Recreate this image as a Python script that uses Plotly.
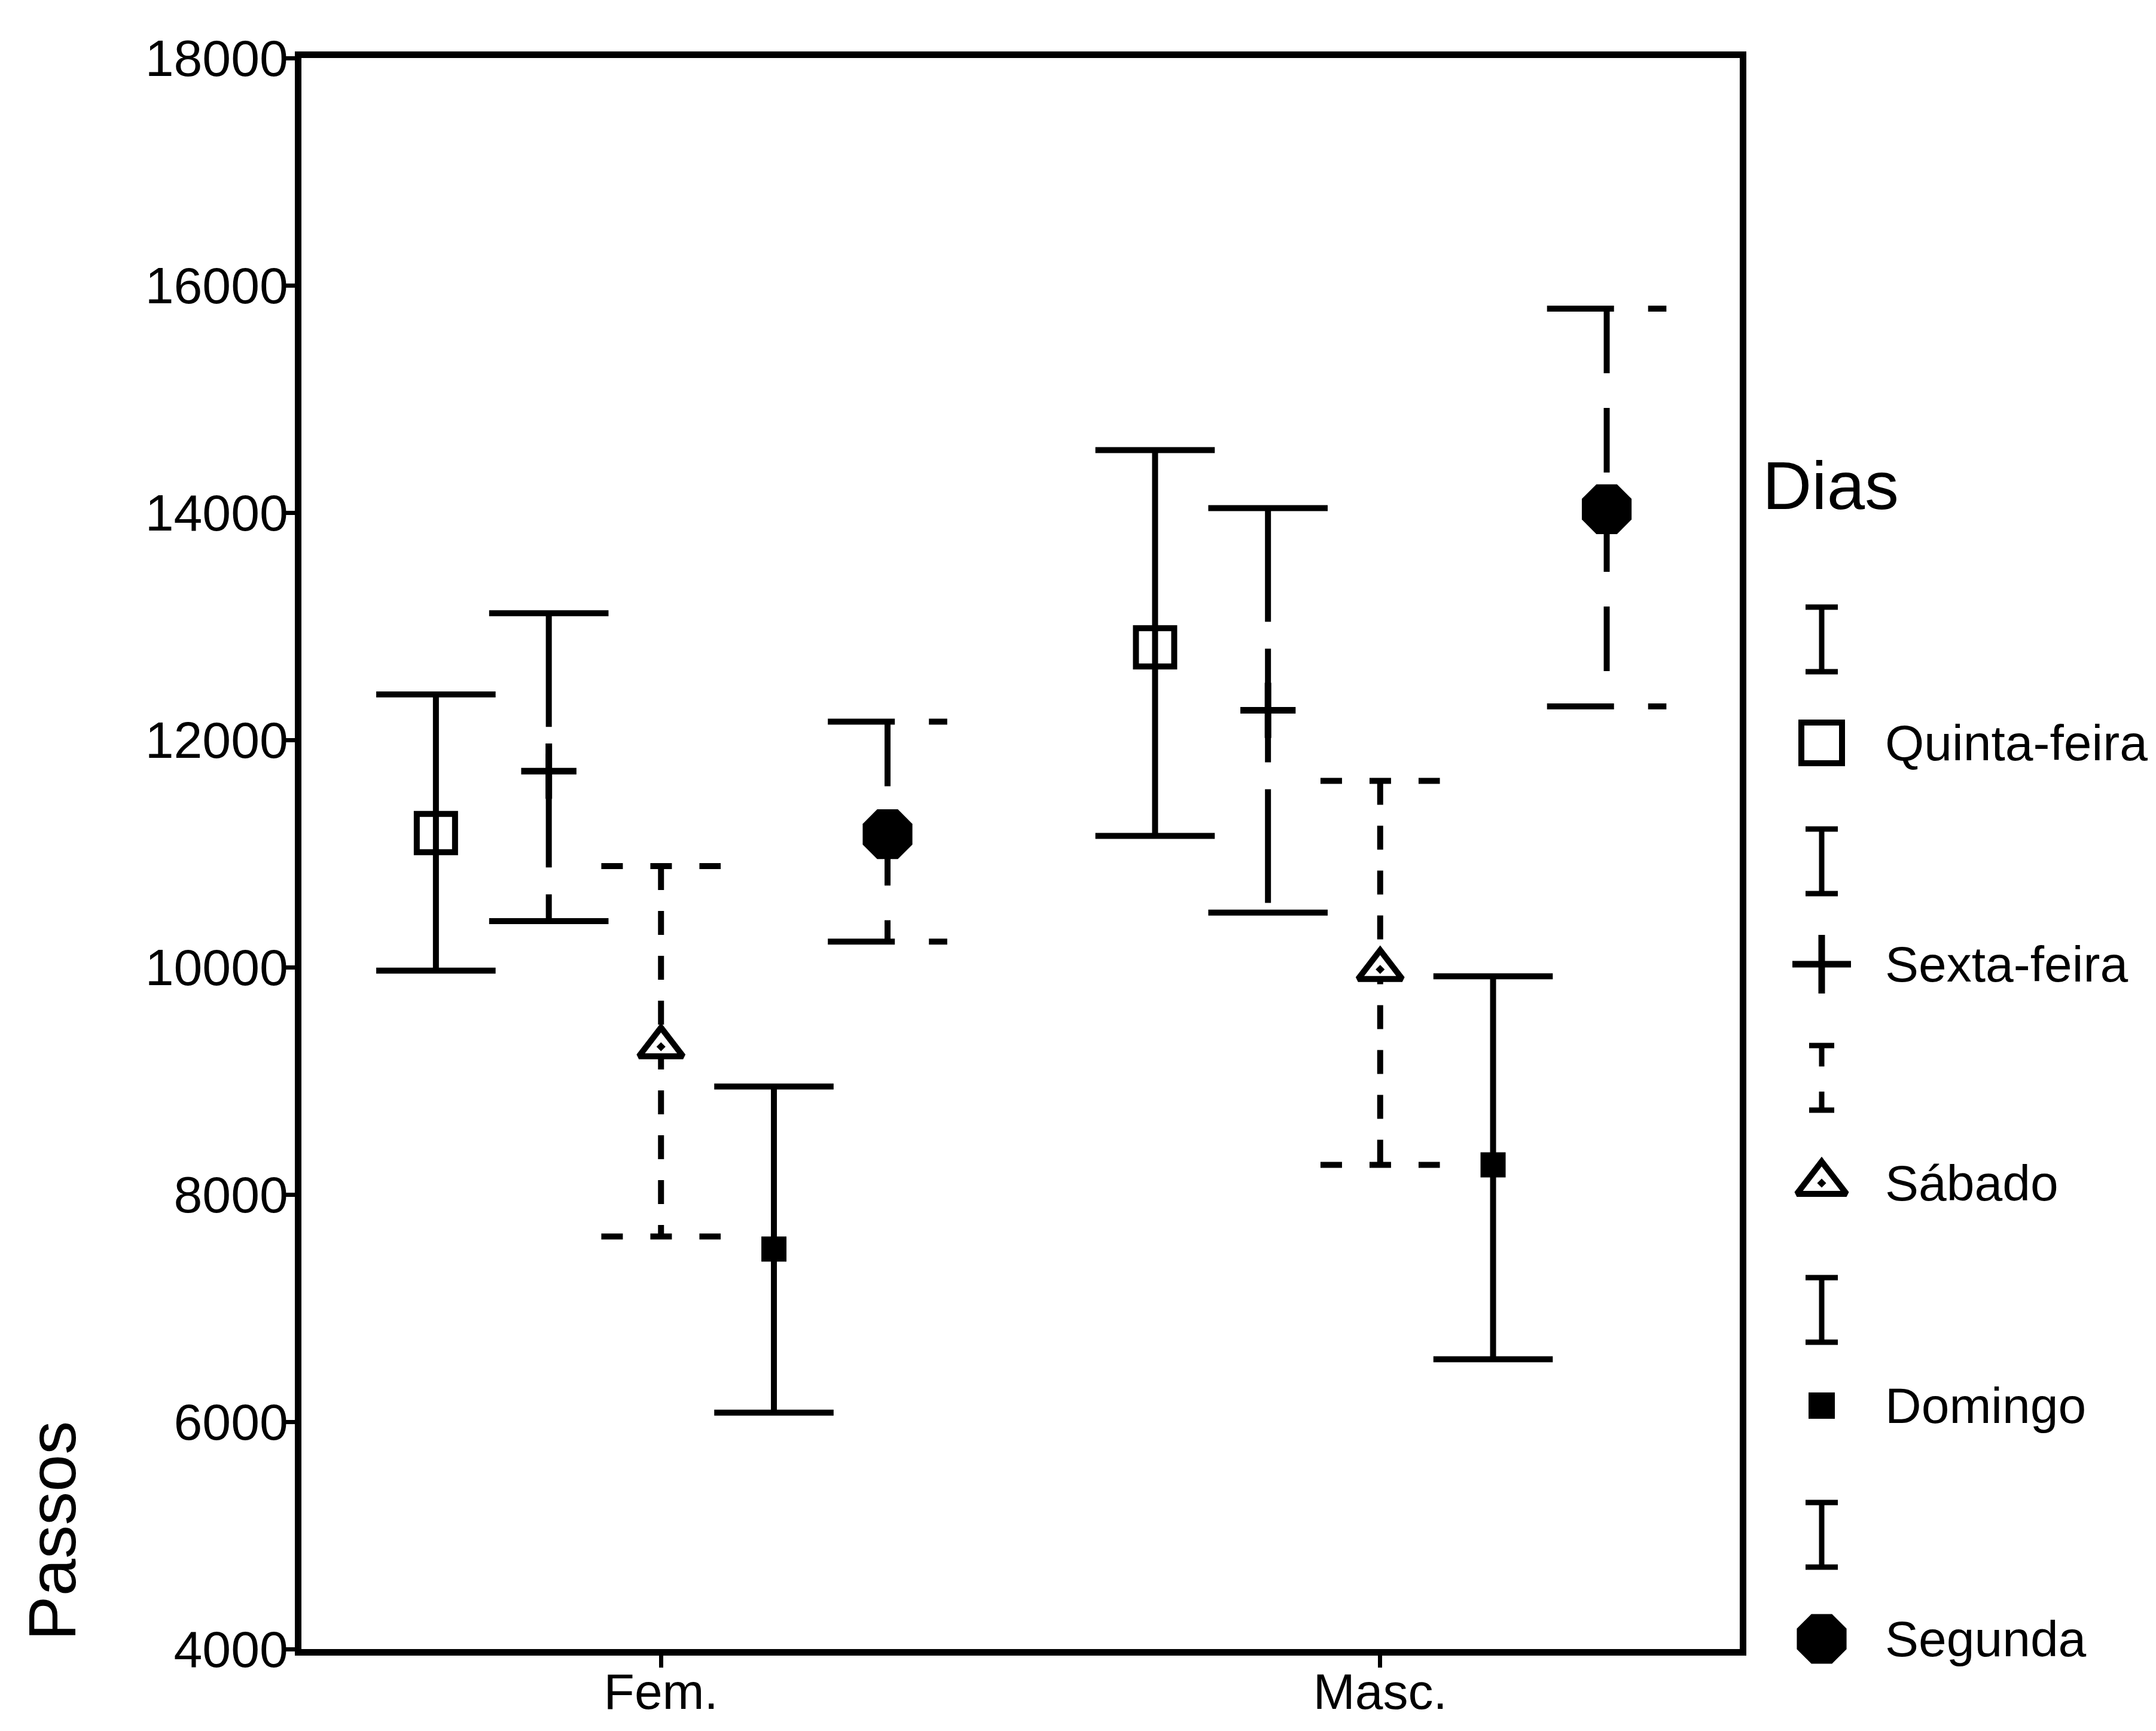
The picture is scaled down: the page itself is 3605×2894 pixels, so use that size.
import plotly.graph_objects as go

# ---------------- data ----------------
groups = ["Fem.", "Masc."]
days = ["Quinta-feira", "Sexta-feira", "Sábado", "Domingo", "Segunda"]

mean_fem = [11180, 11725, 9300, 7520, 11170]
upper_fem = [12400, 13115, 10890, 8950, 12160]
lower_fem = [9970, 10405, 7630, 6080, 10225]

mean_masc = [12815, 12260, 9980, 8260, 14030]
upper_masc = [14550, 14040, 11640, 9920, 15795]
lower_masc = [11155, 10480, 8260, 6550, 12295]

y_ticks = [4000, 6000, 8000, 10000, 12000, 14000, 16000, 18000]
y_title = "Passos"
legend_title = "Dias"

# ---------------- styles ----------------
W, H = 3605, 2894
offsets = [-0.313, -0.156, 0.0, 0.157, 0.315]
cap_half = 0.083
LW = 10

styles = [
    dict(symbol="square-open", size=64, color="black", lw=10, stem="solid", cap="solid"),
    dict(symbol="cross-thin", size=66, color="black", lw=11, stem="190px,45px", cap="solid"),
    dict(symbol="triangle-up-dot", size=64, color="white", lw=10, stem="40px,35px", cap="36px,46px"),
    dict(symbol="square", size=42, color="black", lw=0, stem="solid", cap="solid"),
    dict(symbol="octagon", size=90, color="black", lw=0, stem="108px,58px", cap="112px,57px"),
]

fig = go.Figure()

means = [mean_fem, mean_masc]
uppers = [upper_fem, upper_masc]
lowers = [lower_fem, lower_masc]

# error bars (stems and caps)
for i, day in enumerate(days):
    st = styles[i]
    for g in range(len(groups)):
        xc = g + offsets[i]
        hi, lo = uppers[g][i], lowers[g][i]
        fig.add_trace(go.Scatter(x=[xc, xc], y=[hi, lo], mode="lines",
                                 line=dict(color="black", width=LW, dash=st["stem"]),
                                 hoverinfo="skip", showlegend=False))
        for yv in (hi, lo):
            fig.add_trace(go.Scatter(x=[xc - cap_half, xc + cap_half], y=[yv, yv], mode="lines",
                                     line=dict(color="black", width=LW, dash=st["cap"]),
                                     hoverinfo="skip", showlegend=False))

# markers (means)
for i, day in enumerate(days):
    st = styles[i]
    fig.add_trace(go.Scatter(
        x=[g + offsets[i] for g in range(len(groups))],
        y=[means[g][i] for g in range(len(groups))],
        mode="markers", name=day,
        marker=dict(symbol=st["symbol"], size=st["size"], color=st["color"],
                    line=dict(color="black", width=st["lw"])),
        showlegend=False))

# ---------------- manual legend (pixel coordinate overlay axes) ----------------
leg_x = 3046
leg_text_x = 3150
bar_rows = [1069, 1440, 1802, 2190, 2566]
mark_rows = [1242, 1612, 1978, 2350, 2740]
leg_sizes = [68, 70, 72, 44, 90]
bar_half_h = 54
bar_half_w = 27

for i, day in enumerate(days):
    st = styles[i]
    yc = bar_rows[i]
    if i == 2:
        stem_dash = "35px,42px"
        cap_w = 21
    else:
        stem_dash = "solid"
        cap_w = bar_half_w
    fig.add_trace(go.Scatter(x=[leg_x, leg_x], y=[yc - bar_half_h, yc + bar_half_h], mode="lines",
                             xaxis="x2", yaxis="y2",
                             line=dict(color="black", width=9, dash=stem_dash),
                             hoverinfo="skip", showlegend=False))
    for yv in (yc - bar_half_h, yc + bar_half_h):
        fig.add_trace(go.Scatter(x=[leg_x - cap_w, leg_x + cap_w], y=[yv, yv], mode="lines",
                                 xaxis="x2", yaxis="y2",
                                 line=dict(color="black", width=9),
                                 hoverinfo="skip", showlegend=False))
    fig.add_trace(go.Scatter(x=[leg_x], y=[mark_rows[i]], mode="markers",
                             xaxis="x2", yaxis="y2",
                             marker=dict(symbol=st["symbol"], size=leg_sizes[i], color=st["color"],
                                         line=dict(color="black", width=st["lw"])),
                             hoverinfo="skip", showlegend=False))
    fig.add_annotation(x=leg_text_x / W, y=1 - mark_rows[i] / H, xref="paper", yref="paper",
                       text=day, showarrow=False, xanchor="left", yanchor="middle",
                       font=dict(size=84, color="black"))

fig.add_annotation(x=2945 / W, y=1 - 811 / H, xref="paper", yref="paper",
                   text=legend_title, showarrow=False, xanchor="left", yanchor="middle",
                   font=dict(size=114, color="black"))

fig.add_annotation(x=87 / W, y=1 - 2560 / H, xref="paper", yref="paper",
                   text=y_title, showarrow=False, textangle=-90,
                   xanchor="center", yanchor="middle",
                   font=dict(size=112, color="black"))

fig.update_layout(
    width=W, height=H,
    margin=dict(l=0, r=0, t=0, b=0, autoexpand=False),
    paper_bgcolor="white", plot_bgcolor="rgba(0,0,0,0)",
    showlegend=False,
    font=dict(family="Liberation Sans, Arial, Helvetica, sans-serif", color="black", size=82),
    xaxis=dict(domain=[504 / W, 2909 / W], range=[-0.5, 1.5],
               tickmode="array", tickvals=list(range(len(groups))), ticktext=groups,
               ticks="outside", ticklen=20, tickwidth=7, tickcolor="black",
               showline=True, linewidth=11, linecolor="black", mirror=True,
               showgrid=False, zeroline=False, tickfont=dict(size=84),
               ticklabelstandoff=-32, automargin=False, fixedrange=True),
    yaxis=dict(domain=[1 - 2757 / H, 1 - 97 / H], range=[y_ticks[0], y_ticks[-1]],
               tickmode="array", tickvals=y_ticks, ticktext=[str(v) for v in y_ticks],
               ticks="outside", ticklen=18, tickwidth=7, tickcolor="black",
               showline=True, linewidth=11, linecolor="black", mirror=True,
               showgrid=False, zeroline=False, tickfont=dict(size=86),
               ticklabelstandoff=-24, automargin=False, fixedrange=True),
    xaxis2=dict(domain=[0, 1], range=[0, W], visible=False, anchor="y2",
                automargin=False, fixedrange=True),
    yaxis2=dict(domain=[0, 1], range=[H, 0], visible=False, anchor="x2",
                automargin=False, fixedrange=True),
)

fig.write_html("out.html", config={"displayModeBar": False},
               post_script="document.body.style.margin='0px';")
